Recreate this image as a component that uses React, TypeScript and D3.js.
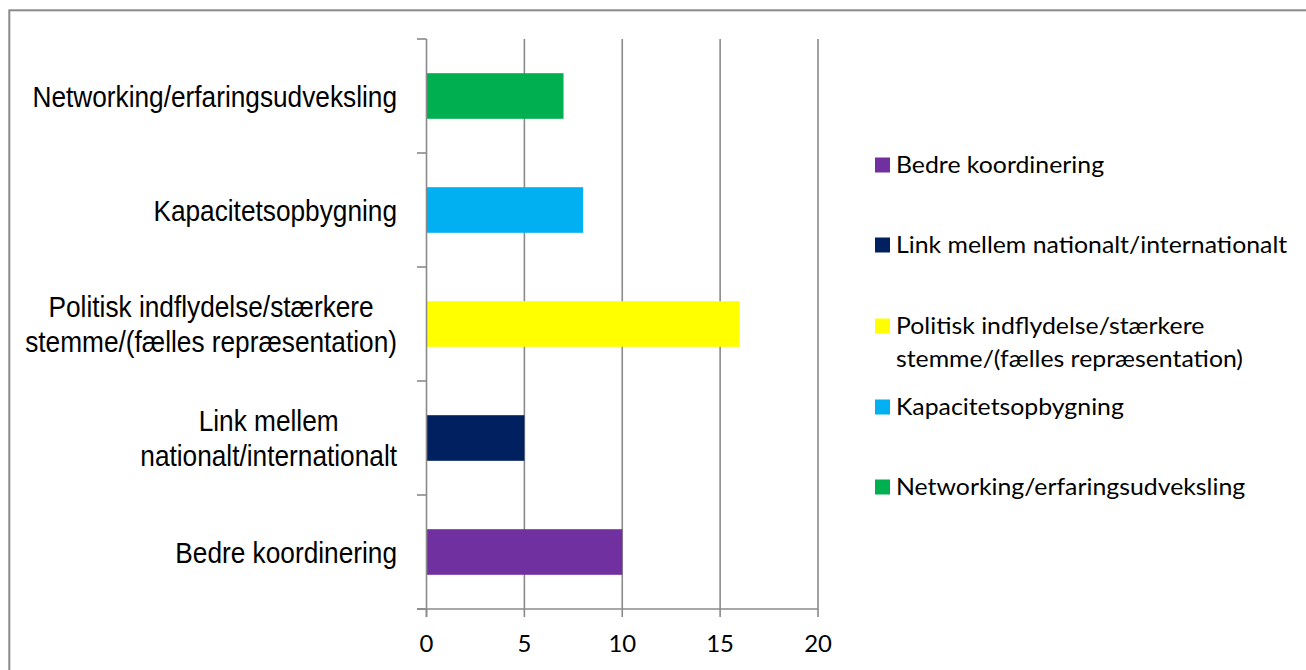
import React, { useRef, useLayoutEffect } from 'react';
import * as d3 from 'd3';

const categories = [
  'Bedre koordinering',
  'Link mellem nationalt/internationalt',
  'Politisk indflydelse/stærkere stemme/(fælles repræsentation)',
  'Kapacitetsopbygning',
  'Networking/erfaringsudveksling',
];
const axisLabelLines = [
  ['Bedre koordinering'],
  ['Link mellem', 'nationalt/internationalt'],
  ['Politisk indflydelse/stærkere', 'stemme/(fælles repræsentation)'],
  ['Kapacitetsopbygning'],
  ['Networking/erfaringsudveksling'],
];
const legendLabelLines = [
  ['Bedre koordinering'],
  ['Link mellem nationalt/internationalt'],
  ['Politisk indflydelse/stærkere', 'stemme/(fælles repræsentation)'],
  ['Kapacitetsopbygning'],
  ['Networking/erfaringsudveksling'],
];
const values = [10, 5, 16, 8, 7];
const colors = ['#7030A0', '#002060', '#FFFF00', '#00B0F0', '#00B050'];
const xTicks = [0, 5, 10, 15, 20];

const W = 1306;
const H = 670;
const plot = { left: 426.5, right: 818, top: 39, bottom: 609 };
const gridColor = '#8a8a8a';
const labelRight = 397;
const labelScaleX = 0.875;

export default function App() {
  const svgRef = useRef<SVGSVGElement>(null);

  const x = d3.scaleLinear().domain([0, 20]).range([plot.left, plot.right]);
  const y = d3
    .scaleBand<string>()
    .domain(categories)
    .range([plot.bottom, plot.top])
    .paddingInner(0.6)
    .paddingOuter(0.3);
  const step = y.step();
  // band boundaries for category tick marks
  const bandEdges = d3.range(categories.length + 1).map(i => plot.bottom - i * step);

  const labelSize = 30;
  const labelLineGap = 35;
  const legendSize = 23;
  const legendY = [165, 245, 326, 407, 487];

  // multi-line category labels: lines centred within a right-aligned block
  useLayoutEffect(() => {
    if (!svgRef.current) return;
    const svg = d3.select(svgRef.current);
    svg.selectAll<SVGGElement, unknown>('g.cat-label').each(function () {
      const texts = d3.select(this).selectAll<SVGTextElement, unknown>('text');
      const widths = texts.nodes().map(n => n.getComputedTextLength());
      const maxW = d3.max(widths) || 0;
      texts.attr('text-anchor', 'middle').attr('x', -maxW / 2);
    });
  }, []);

  return (
    <svg
      ref={svgRef}
      width={W}
      height={H}
      style={{ position: 'absolute', left: 0, top: 0, background: '#fff' }}
    >
      <rect x={9.3} y={10.3} width={W + 20} height={H + 20} fill="#fff" stroke={gridColor} strokeWidth={2} />

      {/* vertical gridlines */}
      {xTicks.slice(1).map(t => (
        <line key={t} x1={x(t)} x2={x(t)} y1={plot.top} y2={plot.bottom} stroke={gridColor} strokeWidth={1.6} />
      ))}

      {/* bars */}
      {categories.map((c, i) => (
        <rect key={c} x={x(0)} y={y(c)} width={x(values[i]) - x(0)} height={y.bandwidth()} fill={colors[i]} />
      ))}

      {/* category axis */}
      <line x1={plot.left} x2={plot.left} y1={plot.top} y2={plot.bottom + 8} stroke={gridColor} strokeWidth={1.6} />
      {bandEdges.map((e, i) => (
        <line key={i} x1={plot.left - 9.5} x2={plot.left} y1={e} y2={e} stroke={gridColor} strokeWidth={1.6} />
      ))}

      {/* value axis */}
      <line x1={plot.left - 9.5} x2={plot.right} y1={plot.bottom} y2={plot.bottom} stroke={gridColor} strokeWidth={1.6} />
      {xTicks.map(t => (
        <g key={t}>
          <line x1={x(t)} x2={x(t)} y1={plot.bottom} y2={plot.bottom + 8} stroke={gridColor} strokeWidth={1.6} />
          <text
            transform={`translate(${x(t)}, 651.5) scale(1.04, 1)`}
            textAnchor="middle"
            fontFamily="Lato, 'Noto Sans', sans-serif"
            fontSize={23}
            fill="#000"
          >
            {t}
          </text>
        </g>
      ))}

      {/* category labels */}
      {categories.map((c, i) => {
        const lines = axisLabelLines[i];
        const center = (y(c) ?? 0) + y.bandwidth() / 2;
        return (
          <g
            key={c}
            className="cat-label"
            transform={`translate(${labelRight}, 0) scale(${labelScaleX}, 1)`}
          >
            {lines.map((ln, j) => {
              const lc = center + (j - (lines.length - 1) / 2) * labelLineGap;
              return (
                <text
                  key={j}
                  x={0}
                  y={lc + labelSize * 0.358}
                  textAnchor="end"
                  fontFamily="'Liberation Sans', Arial, sans-serif"
                  fontSize={labelSize}
                  fill="#000"
                >
                  {ln}
                </text>
              );
            })}
          </g>
        );
      })}

      {/* legend */}
      {categories.map((c, i) => (
        <g key={c}>
          <rect x={875} y={legendY[i] - 7.5} width={15} height={15} fill={colors[i]} />
          {legendLabelLines[i].map((ln, j) => (
            <text
              key={j}
              transform={`translate(896, ${legendY[i] + 8 + j * 33}) scale(1.08, 1)`}
              fontFamily="Lato, 'Noto Sans', sans-serif"
              fontSize={legendSize}
              fill="#000"
            >
              {ln}
            </text>
          ))}
        </g>
      ))}
    </svg>
  );
}
